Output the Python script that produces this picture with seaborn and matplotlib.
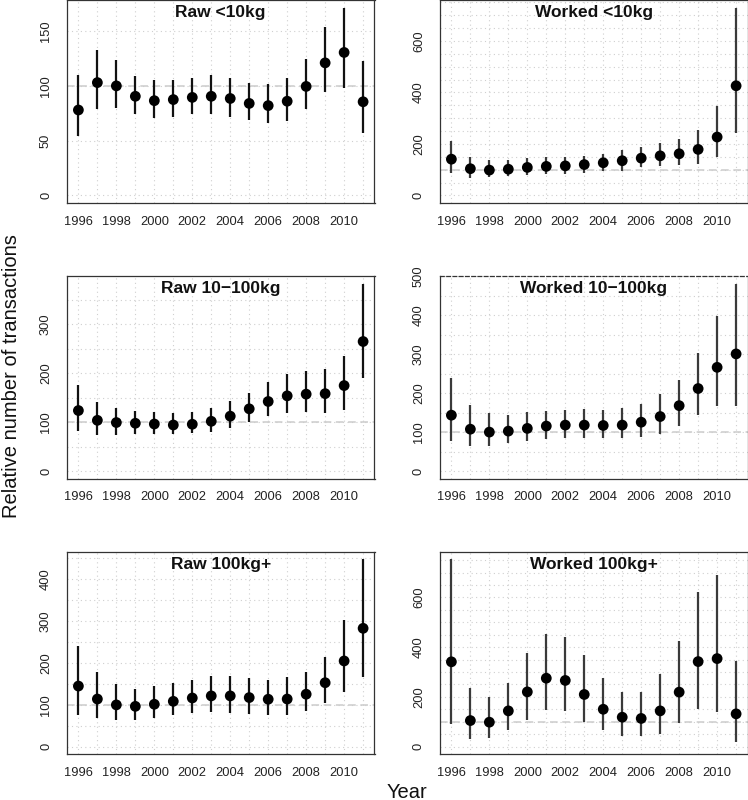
import numpy as np
import pandas as pd
import matplotlib
matplotlib.use("Agg")
import matplotlib.pyplot as plt
from matplotlib.ticker import MultipleLocator
import seaborn as sns

years = list(range(1996, 2012))

# point estimates and interval ends
raw_small_mid = [78, 103, 100, 90.5, 86.5, 87.5, 89.5, 90.5, 88.5, 84, 82, 86, 99.5, 121, 130.5, 85.5]
raw_small_lo = [54, 79, 80, 74.5, 70.5, 71.5, 74, 74, 72, 68.5, 66, 68, 79, 94, 98, 57]
raw_small_hi = [110, 132.5, 123.5, 109, 105, 105, 107.5, 110, 107.5, 103, 101.5, 107.5, 124.5, 154, 171.5, 122.5]

worked_small_mid = [141, 104, 98.5, 102, 109, 113, 115, 120, 127, 135, 145, 154, 162, 179, 227, 426]
worked_small_lo = [87, 69, 71, 75, 80, 82, 84, 88, 95, 97, 110, 114, 119, 123, 149, 242]
worked_small_hi = [210, 148, 136, 139, 145, 149, 150, 155, 163, 175, 188, 202, 218, 254, 349, 730]

raw_mid_mid = [123.5, 103.5, 99, 97.5, 96, 94, 95.5, 101.5, 112, 127, 142, 153.5, 157, 158, 174.5, 264.5]
raw_mid_lo = [81, 73.5, 73.5, 75.5, 75.5, 75.5, 77, 80.5, 88.5, 100, 112, 118, 120, 118.5, 124, 190]
raw_mid_hi = [176, 140, 129, 123.5, 121.5, 118, 119.5, 128, 142, 160, 182, 199, 204, 208, 234.5, 383]

worked_mid_mid = [143.5, 107.5, 100, 102.5, 109.5, 115.5, 118, 118, 117, 118, 125.5, 140, 168, 212, 266.5, 301]
worked_mid_lo = [77, 63, 64, 71, 77, 83, 85.5, 85.5, 84, 85.5, 88, 95.5, 116, 143.5, 168, 168]
worked_mid_hi = [240, 169, 148, 144.5, 150.5, 154.5, 158, 160.5, 158, 161.5, 172, 198, 233, 302.5, 399, 482]

raw_large_mid = [144.5, 113.5, 99.5, 96, 101, 108, 116, 121, 121, 117, 113, 113.5, 125, 152.5, 204.5, 282.5]
raw_large_lo = [76, 67, 63, 64.5, 67.5, 75.5, 80, 82.5, 81, 78.5, 76.5, 76.5, 84.5, 103.5, 131, 167]
raw_large_hi = [239.5, 177.5, 148.5, 137, 144.5, 152, 159.5, 169.5, 168, 163, 159, 167, 177.5, 214.5, 301.5, 447]

worked_large_mid = [341, 104.5, 98, 143.5, 220, 275, 266, 209.5, 150, 118, 113, 143.5, 219, 342, 354, 131.5]
worked_large_lo = [89, 31, 33.5, 66, 108.5, 146, 142, 100.5, 67, 44, 41.5, 49.5, 94, 151.5, 139.5, 20]
worked_large_hi = [753, 237.5, 198.5, 256, 377, 453.5, 440, 368, 274, 217.5, 221.5, 292.5, 425.5, 624, 692.5, 343.5]

panels = [
    ("Raw <10kg", raw_small_mid, raw_small_lo, raw_small_hi, 50),
    ("Worked <10kg", worked_small_mid, worked_small_lo, worked_small_hi, 200),
    ("Raw 10\u2212100kg", raw_mid_mid, raw_mid_lo, raw_mid_hi, 100),
    ("Worked 10\u2212100kg", worked_mid_mid, worked_mid_lo, worked_mid_hi, 100),
    ("Raw 100kg+", raw_large_mid, raw_large_lo, raw_large_hi, 100),
    ("Worked 100kg+", worked_large_mid, worked_large_lo, worked_large_hi, 200),
]

sns.set_style("white")
plt.rcParams["font.family"] = ["Liberation Sans", "DejaVu Sans"]

W, H = 748, 800
fig = plt.figure(figsize=(W / 100, H / 100), dpi=100)

# panel boxes in pixels: (left, top, right, bottom)
col_x = [(67, 374.5), (440, 747.5)]
row_y = [(0, 203), (276, 478.5), (552, 754)]

for i, (title, mid, lo, hi, step) in enumerate(panels):
    r, c = divmod(i, 2)
    x0, x1 = col_x[c]
    y0, y1 = row_y[r]
    ax = fig.add_axes([x0 / W, 1 - y1 / H, (x1 - x0) / W, (y1 - y0) / H])

    df = pd.DataFrame({"Year": years, "Value": mid, "lo": lo, "hi": hi})
    top = df["hi"].max()
    ax.set_xlim(1995.4, 2011.6)
    ax.set_ylim(-0.04 * top, 1.04 * top)

    # dotted background grid
    ax.xaxis.set_major_locator(MultipleLocator(2))
    ax.xaxis.set_minor_locator(MultipleLocator(1))
    ax.yaxis.set_major_locator(MultipleLocator(step))
    ax.yaxis.set_minor_locator(MultipleLocator(50))
    ax.grid(True, which="both", color="#cfcfcf", linestyle=(0, (1, 3)), linewidth=0.8)
    ax.set_axisbelow(True)

    ax.axhline(100, color="#cccccc", linestyle=(0, (5, 3)), linewidth=1.1, zorder=1)

    bar_color = "#111111" if title.startswith("Raw") else "#3a3a3a"
    ax.vlines(df["Year"], df["lo"], df["hi"], color=bar_color, linewidth=1.6, zorder=2)
    sns.scatterplot(data=df, x="Year", y="Value", ax=ax, color="black", s=60,
                    edgecolor="none", zorder=3, legend=False)

    ax.set_xlabel("")
    ax.set_ylabel("")
    ax.set_xticks([y for y in years if y % 2 == 0])
    ax.tick_params(axis="both", which="major", length=5.8, width=0.8, color="#333333",
                   labelsize=9.3, labelcolor="#222222")
    ax.tick_params(axis="both", which="minor", length=0)
    ax.tick_params(axis="x", pad=3.5)
    ax.tick_params(axis="y", labelrotation=90, pad=5)
    for lbl in ax.get_yticklabels():
        lbl.set_va("center")
    for sp in ax.spines.values():
        sp.set_visible(True)
        sp.set_color("#333333")
        sp.set_linewidth(0.9)
    if title == "Worked 10\u2212100kg":
        ax.spines["top"].set_linestyle((0, (3, 2)))

    ax.text(0.5, 1 - 12 / (y1 - y0), title, transform=ax.transAxes, ha="center", va="center",
            fontsize=12.5, fontweight="bold", color="#111111")

fig.text(12 / W, 1 - 376 / H, "Relative number of transactions", rotation=90,
         ha="center", va="center", fontsize=14.5, color="#111111")
fig.text(407 / W, 1 - 792 / H, "Year", ha="center", va="center", fontsize=14.5, color="#111111")

fig.savefig("out.png", dpi=100)
